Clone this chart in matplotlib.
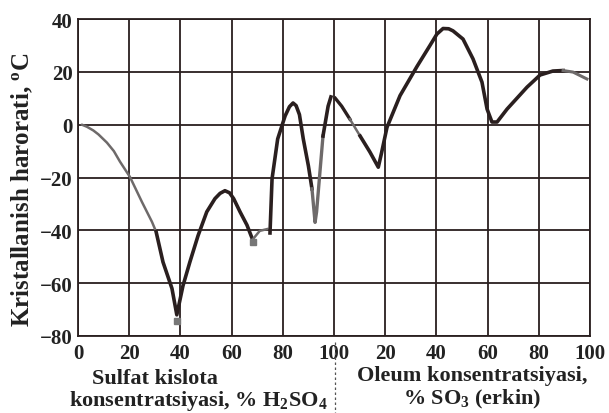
import matplotlib
matplotlib.use('Agg')
import matplotlib.pyplot as plt
from matplotlib.lines import Line2D

# --- data ---
# H2SO4 side (x in % H2SO4)
x_ice = [1.5, 3.5, 6, 8, 11.3, 14, 16.4, 20.3, 25, 28.9, 30.5]
y_ice = [0, -0.8, -2.2, -3.7, -6.8, -10, -14, -19.8, -29.3, -36.8, -40.5]

x_hyd = [30.5, 33.2, 36.7, 38.6, 41, 43.7, 46.9, 50.3, 53.5, 55.5, 57.4, 59.2,
         60.8, 63.3, 66, 68.2]
y_hyd = [-40.5, -52, -62, -72, -61, -52, -42, -33, -28, -26, -25, -25.8,
         -28, -33, -38, -43.5]

x_tail = [68.2, 71, 74]
y_tail = [-43.5, -40.2, -39.5]

x_mono = [75, 75.8, 78, 80.9, 82.6, 84, 85.2, 86.5, 88, 90, 91.4, 92.6, 93.2,
          94.5, 95.7, 97.7, 98.8]
y_mono = [-41, -20.5, -5.4, 3.3, 6.8, 8.2, 7.2, 3.8, -5.4, -15.6, -24.3, -37, -33,
          -18, -4.3, 7, 10.5]

# Oleum side (x in % free SO3)
x_oleum = [0.5, 3, 6.2, 10.2, 14, 17.3, 18.5, 20.7, 25.8, 32.4, 37.5, 40.2, 42.6,
           44.8, 46.5, 50.4, 54.3, 57.8, 59.8, 61.7, 63.7, 67.6, 75.4, 80.5, 85.5,
           89.5, 93.4, 98.8]
y_oleum = [10, 7, 2.1, -4.3, -10.3, -16.1, -11, -1, 11, 22, 30, 34.3, 36.4,
           36.3, 35.5, 32.4, 24.9, 16.1, 5.9, 1, 1, 5.9, 14.2, 18.8, 20.3,
           20.5, 19.9, 17.3]

x_ticks = [0, 20, 40, 60, 80, 100, 120, 140, 160, 180, 200]
x_ticklabels = ['0', '20', '40', '60', '80', '100', '20', '40', '60', '80', '100']
y_ticks = [-80, -60, -40, -20, 0, 20, 40]

plt.rcParams['font.family'] = ['Liberation Serif', 'DejaVu Serif']
plt.rcParams['font.weight'] = 'bold'

dark = '#2a1f1f'
gray = '#6e6a6a'
txt = '#222222'

fig = plt.figure(figsize=(6.09, 4.14), dpi=100)
ax = fig.add_axes([78/609, 1-337/414, 512/609, 317/414])

xo = [100 + v for v in x_oleum]

ax.plot(x_ice, y_ice, color=gray, lw=1.8, solid_capstyle='round')
ax.plot(x_hyd, y_hyd, color=dark, lw=2.6, solid_joinstyle='round')
ax.plot(x_tail, y_tail, color=gray, lw=1.8)
ax.plot(x_mono[:11], y_mono[:11], color=dark, lw=2.6, solid_joinstyle='round')
ax.plot(x_mono[10:15], y_mono[10:15], color=gray, lw=2.4, solid_joinstyle='round')
ax.plot(x_mono[14:], y_mono[14:], color=dark, lw=2.6)
ax.plot(xo[:3], y_oleum[:3], color=dark, lw=2.4)
ax.plot(xo[2:4], y_oleum[2:4], color=gray, lw=1.8)
ax.plot(xo[3:26], y_oleum[3:26], color=dark, lw=2.6, solid_joinstyle='round')
ax.plot(xo[25:], y_oleum[25:], color=gray, lw=2.2)
# scanned blobs at the lower eutectic points
ax.plot([38.6, 68.4], [-74.5, -44.5], 's', color='#777', ms=4)

ax.set_xlim(0, 200)
ax.set_ylim(-80, 40)
ax.set_xticks(x_ticks)
ax.set_xticklabels(x_ticklabels)
ax.set_yticks(y_ticks)
ax.grid(True, color=dark, lw=1.3)
ax.tick_params(length=0, labelsize=15, colors=txt)
ax.tick_params(axis='x', pad=5)
ax.tick_params(axis='y', pad=4)
for s in ax.spines.values():
    s.set_color(dark)
    s.set_linewidth(1.3)

fig.text(22/609, 1-190/414, 'Kristallanish harorati, $\\mathregular{^oC}$',
         rotation=90, ha='center', va='center', fontsize=18,
         fontweight='bold', color=txt)

fig.text(155/609, 1-379/414, 'Sulfat kislota', ha='center', va='center',
         fontsize=16, fontweight='bold', color=txt)
fig.text(198/609, 1-401/414,
         'konsentratsiyasi, % H$\\mathregular{_2}$SO$\\mathregular{_4}$',
         ha='center', va='center', fontsize=16, fontweight='bold', color=txt)
fig.text(472/609, 1-376/414, 'Oleum konsentratsiyasi,', ha='center', va='center',
         fontsize=16, fontweight='bold', color=txt)
fig.text(472/609, 1-399/414, '% SO$\\mathregular{_3}$ (erkin)', ha='center',
         va='center', fontsize=16, fontweight='bold', color=txt)
fig.add_artist(Line2D([335/609, 335/609], [1-343/414, 0], color='#555',
                      lw=0.9, ls=(0, (2, 2))))

plt.savefig('out.png', dpi=100)
